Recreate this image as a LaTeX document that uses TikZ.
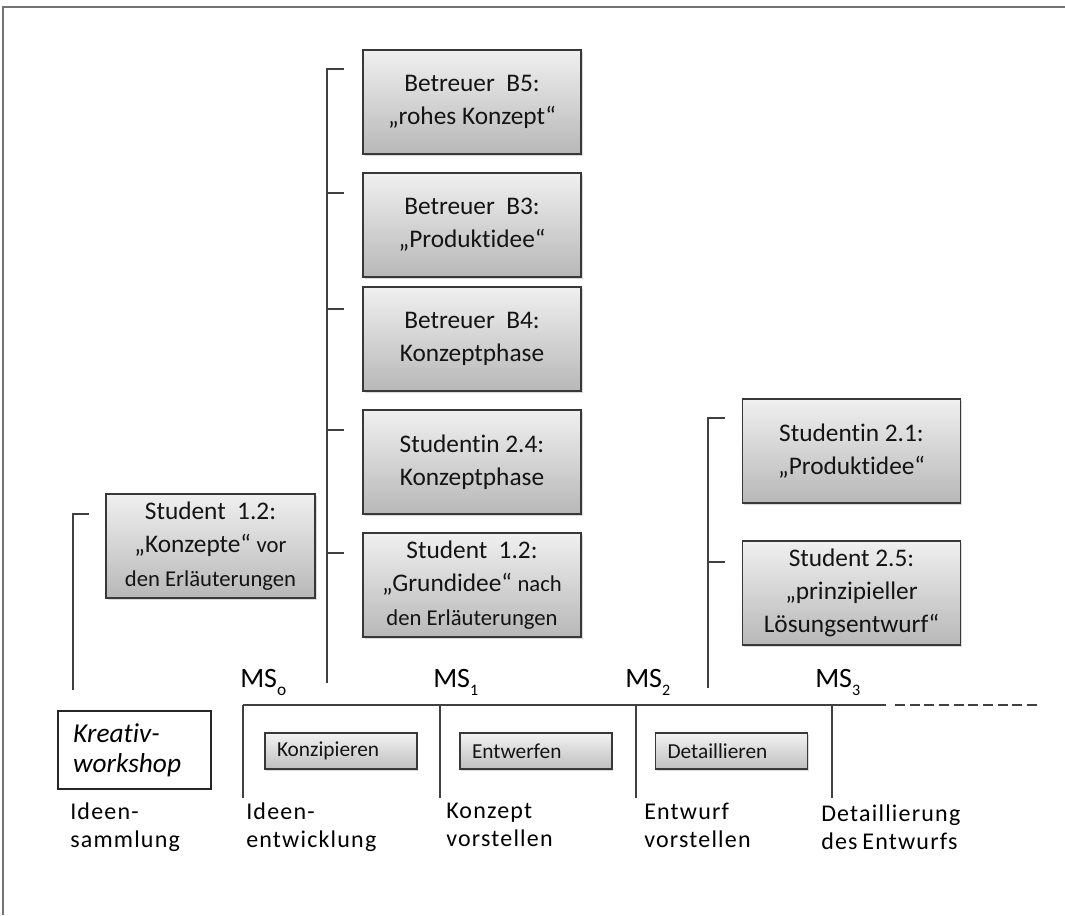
\documentclass[tikz,border=0pt]{standalone}
\usepackage{fontspec}
\setmainfont[Ligatures={NoCommon}]{Carlito}
\newfontfamily\spacedfont[LetterSpace=5,Ligatures={NoCommon}]{Carlito}
\usetikzlibrary{shadows}
\begin{document}
\begin{tikzpicture}[x=0.75pt,y=-0.75pt,
  bigbox/.style={draw=black!78, line width=1.1pt, top color=black!6, bottom color=black!28,
    minimum width=163.5pt, minimum height=78pt, align=center, inner sep=2pt,
    font=\fontsize{19}{25}\selectfont, text=black!92,
    drop shadow={shadow xshift=1.2pt, shadow yshift=-1.5pt, opacity=0.3}},
  phasebox/.style={draw=black!78, line width=1pt, top color=black!5, bottom color=black!25,
    minimum height=27pt, text width=96pt, inner xsep=9pt, inner ysep=0pt, align=left,
    font=\fontsize{16}{18}\selectfont, text=black!92,
    drop shadow={shadow xshift=1pt, shadow yshift=-1.2pt, opacity=0.3}},
  workbox/.style={draw=black!85, line width=0.8pt, minimum width=114.75pt, minimum height=58.5pt,
    text width=92pt, inner xsep=11pt, align=left, font=\fontsize{20.5}{22.5}\selectfont\itshape},
  bracket/.style={draw=black!75, line width=1.1pt},
  axis/.style={draw=black!75, line width=1.1pt},
  mslabel/.style={anchor=base west, inner sep=0pt, font=\fontsize{21}{21}\selectfont},
  steplabel/.style={anchor=north west, inner sep=0pt, align=left,
    font=\fontsize{18}{20.5}\selectfont\spacedfont}
]
\useasboundingbox (0,0) rectangle (1065,915);
% frame
\draw[black!55, line width=0.9pt] (3,915) -- (3,7) -- (1065,7);

% upper column of boxes
\node[bigbox] (b5)  at (472,102) {Betreuer\hspace{0.45em}B5:\\„rohes Konzept“};
\node[bigbox] (b3)  at (472,225) {Betreuer\hspace{0.45em}B3:\\„Produktidee“};
\node[bigbox] (b4)  at (472,339) {Betreuer\hspace{0.45em}B4:\\Konzeptphase};
\node[bigbox] (s24) at (472,462) {Studentin 2.4:\\Konzeptphase};
\node[bigbox] (s12b) at (472,585) {Student\hspace{0.45em}1.2:\\„Grundidee“ {\fontsize{17}{25}\selectfont nach}\\{\fontsize{17}{25}\selectfont den Erläuterungen}};
\node[bigbox, minimum width=156.75pt] (s12a) at (210.5,546) {Student\hspace{0.45em}1.2:\\„Konzepte“ {\fontsize{17}{25}\selectfont vor}\\{\fontsize{17}{25}\selectfont den Erläuterungen}};
\node[bigbox] (s21) at (851.5,451) {Studentin 2.1:\\„Produktidee“};
\node[bigbox] (s25) at (851.5,593) {Student 2.5:\\„prinzipieller\\Lösungsentwurf“};

% brackets
\coordinate (mb) at (327,683);
\coordinate (mt) at (327,69);
\draw[bracket] (mb) -- (mt) -- (344,69);
\draw[bracket] (327,193) -- (344,193);
\draw[bracket] (327,309) -- (344,309);
\draw[bracket] (327,430) -- (344,430);
\draw[bracket] (327,553) -- (344,553);
\coordinate (lb) at (73,690);
\draw[bracket] (lb) -- (73,514) -- (89,514);
\coordinate (rb) at (708,688);
\draw[bracket] (rb) -- (708,418) -- (725,418);
\draw[bracket] (708,562) -- (725,562);

% timeline
\coordinate (t0) at (243,705);
\coordinate (t1) at (440,705);
\coordinate (t2) at (636,705);
\coordinate (t3) at (832,705);
\coordinate (tend) at (886,705);
\coordinate (dstart) at (895,705);
\coordinate (dend) at (1040,705);
\draw[axis] (t0) -- (tend);
\draw[axis, dash pattern=on 7.5pt off 3.5pt] (dstart) -- (dend);
\foreach \t in {t0,t1,t2,t3} \draw[axis] (\t) -- ++(0,93);

% milestones
\node[mslabel] (ms0) at (240,687) {MS\raisebox{-0.3em}{\fontsize{13}{13}\selectfont o}};
\node[mslabel] (ms1) at (433,687) {MS\raisebox{-0.3em}{\fontsize{12}{12}\selectfont 1}};
\node[mslabel] (ms2) at (625,687) {MS\raisebox{-0.3em}{\fontsize{12}{12}\selectfont 2}};
\node[mslabel] (ms3) at (815,687) {MS\raisebox{-0.3em}{\fontsize{12}{12}\selectfont 3}};

% phase boxes
\node[phasebox] (p1) at (341,751) {Konzipieren};
\node[phasebox] (p2) at (536,751) {Entwerfen};
\node[phasebox] (p3) at (731.5,751) {Detaillieren};

% Kreativ-workshop
\node[workbox] (kw) at (134.5,750) {Kreativ-\\workshop};

% step labels
\node[steplabel] (l0) at (70,803) {Ideen-\\sammlung};
\node[steplabel] (l1) at (246,803) {Ideen-\\entwicklung};
\node[steplabel] (l2) at (446,803) {Konzept\\vorstellen};
\node[steplabel] (l3) at (644,803) {Entwurf\\vorstellen};
\node[steplabel] (l4) at (821,805) {Detaillierung\\des\hspace{0.2em}Entwurfs};
\end{tikzpicture}
\end{document}
